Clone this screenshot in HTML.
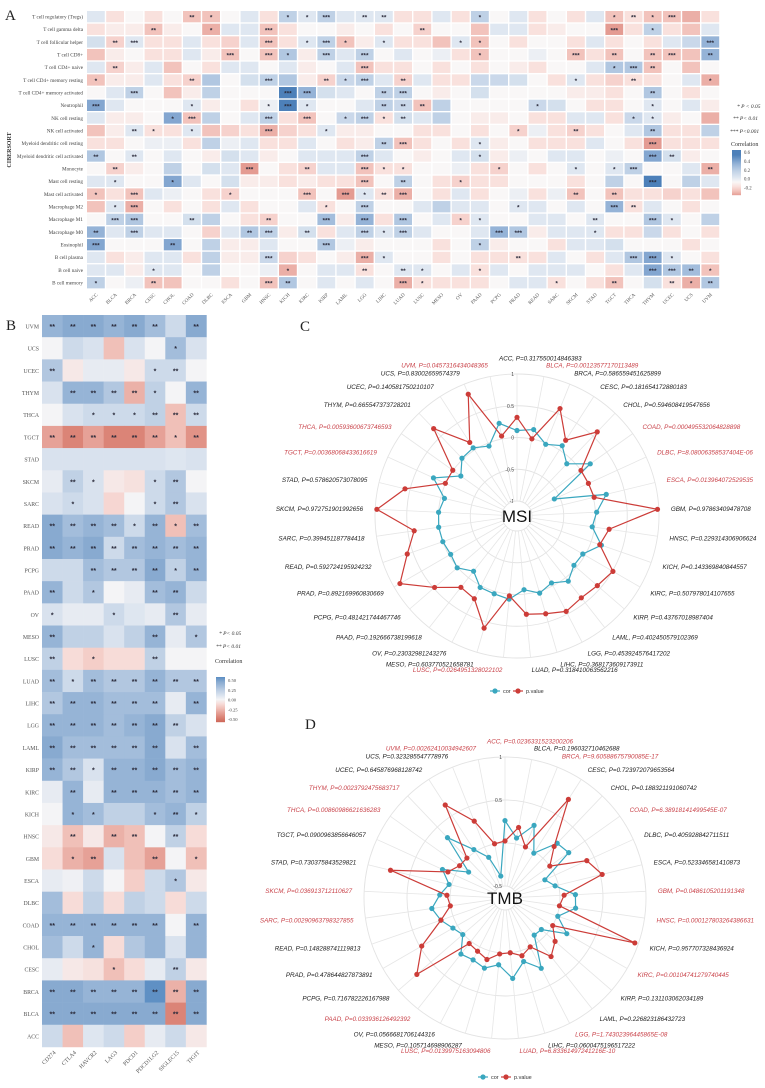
<!DOCTYPE html>
<html><head><meta charset="utf-8"><style>
html,body{margin:0;padding:0;background:#fff;}
svg{display:block;font-family:"Liberation Sans",sans-serif;}
</style></head><body>
<svg id="chart" width="765" height="1088" viewBox="0 0 765 1088" xmlns="http://www.w3.org/2000/svg">
<rect width="765" height="1088" fill="#fff"/>
<g id="gA"></g>
<g id="gB"></g>
<g id="gC"></g>
<g id="gD"></g>
</svg>
<script>
const NS="http://www.w3.org/2000/svg";
// ---------- DATA ----------
const cancers=["ACC","BLCA","BRCA","CESC","CHOL","COAD","DLBC","ESCA","GBM","HNSC","KICH","KIRC","KIRP","LAML","LGG","LIHC","LUAD","LUSC","MESO","OV","PAAD","PCPG","PRAD","READ","SARC","SKCM","STAD","TGCT","THCA","THYM","UCEC","UCS","UVM"];
const cellsA=["T cell regulatory (Tregs)","T cell gamma delta","T cell follicular helper","T cell CD8+","T cell CD4+ naive","T cell CD4+ memory resting","T cell CD4+ memory activated","Neutrophil","NK cell resting","NK cell activated","Myeloid dendritic cell resting","Myeloid dendritic cell activated","Monocyte","Mast cell resting","Mast cell activated","Macrophage M2","Macrophage M1","Macrophage M0","Eosinophil","B cell plasma","B cell naive","B cell memory"];
const valA=[
[.1,-.1,0,-.1,0,-.2,-.2,0,.1,-.1,.25,.1,.25,.1,.1,.1,-.1,-.1,.1,-.1,.25,0,.1,-.1,0,-.1,.1,-.2,-.1,-.2,-.2,-.25,-.1],
[-.1,-.05,-.05,-.2,-.05,0,-.25,.1,.1,-.2,-.1,0,0,-.05,0,-.1,0,-.15,0,0,-.2,.1,.1,-.1,-.05,0,0,-.3,-.1,.25,-.1,-.2,.1],
[.15,-.15,.1,-.1,-.1,.1,-.1,-.15,.1,-.2,-.1,.1,.25,-.2,-.05,.1,-.1,-.1,-.2,.1,-.2,0,-.1,0,0,-.1,.1,-.1,0,-.1,.1,.2,.4],
[-.2,-.05,0,-.1,-.1,.1,-.05,-.2,0,-.2,.3,-.05,.25,.1,.25,0,.1,0,.05,-.1,-.2,0,0,.05,0,-.2,-.1,-.2,0,-.2,-.2,-.2,.4],
[.1,-.15,-.05,.1,-.2,0,-.1,.1,.1,0,.1,-.05,0,.1,-.2,-.1,-.1,0,-.1,0,-.1,0,-.05,-.1,0,0,.1,.3,.3,-.2,0,-.2,0],
[-.2,-.05,-.05,.1,-.1,-.15,.3,0,.15,.25,.3,-.05,-.15,.2,.25,.1,-.15,.1,-.1,-.1,.2,.2,.15,0,-.1,.1,-.1,-.15,-.1,-.1,0,.1,-.25],
[0,.1,.25,0,-.2,-.05,.25,0,0,0,.6,.4,.15,.1,0,.25,.25,0,-.05,0,.15,0,0,0,0,-.05,-.05,-.1,0,.3,0,-.1,0],
[.45,.1,0,0,0,.1,-.05,0,-.1,.05,.6,.1,0,0,.1,.25,.2,-.2,.25,0,0,0,0,.2,.15,0,-.1,-.1,0,.1,0,.1,-.05],
[.1,-.05,-.05,0,.45,-.2,.25,0,.1,.25,-.1,-.2,0,.2,.25,-.1,.15,.1,.25,0,-.05,-.05,0,-.1,-.1,.1,.1,-.1,.2,.1,-.05,0,-.25],
[-.2,-.05,.1,-.1,-.1,.1,-.2,-.15,-.1,-.25,-.15,-.1,.1,-.05,-.05,0,0,-.1,-.1,0,-.1,0,-.15,.05,-.1,-.15,-.1,0,.1,.3,-.1,-.1,.25],
[-.1,-.1,0,.05,.05,-.1,.25,.05,.1,-.1,-.1,.1,0,-.1,-.05,.25,-.2,-.1,0,-.1,.1,-.05,0,-.1,-.1,-.1,.1,0,-.1,-.3,-.1,-.1,-.1],
[.3,0,.1,0,.1,0,-.05,.15,.1,-.05,0,.1,.1,.1,.25,.1,0,-.05,0,.1,.15,-.05,.05,0,.1,.1,0,.05,0,.45,.15,-.05,0],
[0,-.15,-.05,0,.25,0,.15,.1,-.3,0,-.1,-.15,.1,.1,-.2,-.1,-.1,0,0,.05,-.1,-.15,0,-.1,0,.1,0,.1,.25,0,0,.1,-.25],
[.1,.1,0,0,.45,.1,0,.15,-.05,-.05,-.1,-.05,-.1,-.1,-.2,0,.25,0,-.1,-.15,-.1,-.1,0,0,0,-.1,0,.25,0,.6,0,.25,.1],
[-.2,-.1,-.2,.1,.05,0,-.1,-.15,0,0,0,-.2,0,-.3,.1,-.1,-.25,0,-.1,.1,-.1,0,.05,-.1,.05,-.2,0,-.2,-.1,-.1,-.15,-.1,-.2],
[-.2,.1,-.25,0,-.1,0,-.1,.1,-.1,0,0,.1,-.1,0,.25,0,0,.1,.25,.1,.1,0,.1,.1,0,.1,0,.4,-.1,.1,0,-.1,0],
[0,.25,.3,0,0,.15,.25,0,-.1,-.15,0,0,.35,-.05,.4,-.1,.3,0,.1,-.15,.1,0,0,.1,.1,0,.1,0,0,.3,.1,0,.25],
[.4,.1,.25,.1,.1,0,-.15,.1,.3,.25,-.05,.15,-.1,.1,.25,.1,.25,.1,0,0,.1,.4,.3,-.05,.1,.1,.1,-.1,-.1,.2,-.1,0,-.1],
[.45,0,0,0,.45,0,.25,-.05,-.05,.1,0,0,.3,.05,-.05,0,0,0,-.1,0,.25,-.05,0,0,-.1,.1,.1,.15,0,0,0,-.1,0],
[.1,-.1,-.05,.1,.1,-.1,.25,-.05,-.05,.2,-.15,-.1,0,-.05,-.25,.1,0,0,-.1,0,-.1,-.1,-.1,-.1,.1,0,-.1,.1,.3,.45,.1,0,-.1],
[.1,.1,-.05,.1,.1,0,.25,0,0,.05,-.25,0,.1,.1,-.1,0,.1,.1,0,.1,-.1,.1,0,.1,.1,.1,0,-.1,.1,.45,.3,.35,-.2],
[.25,0,.05,-.2,-.2,0,0,-.1,0,-.2,.3,0,.1,0,.1,0,-.25,-.1,-.1,-.1,-.1,0,.1,.1,-.1,0,-.1,-.2,0,.15,-.1,-.25,.3]];
const sigA=[
[0,0,0,0,0,2,1,0,0,0,1,1,3,0,2,2,0,0,0,0,1,0,0,0,0,0,0,1,2,1,3,0,0],
[0,0,0,2,0,0,1,0,0,3,0,0,0,0,0,0,0,2,0,0,0,0,0,0,0,0,0,3,0,1,0,0,0],
[0,2,3,0,0,0,0,0,0,3,0,1,3,1,0,1,0,0,0,1,1,0,0,0,0,0,0,0,0,0,0,0,3],
[0,0,0,0,0,0,0,3,0,3,1,0,3,0,3,0,0,0,0,0,1,0,0,0,0,3,0,2,0,2,3,0,2],
[0,2,0,0,0,0,0,0,0,0,0,0,0,0,3,0,0,0,0,0,0,0,0,0,0,0,0,1,3,2,0,0,0],
[1,0,0,0,0,2,0,0,0,3,0,0,2,1,3,0,2,0,0,0,0,0,0,0,0,1,0,0,2,0,0,0,1],
[0,0,3,0,0,0,0,0,0,0,3,3,0,0,0,2,3,0,0,0,0,0,0,0,0,0,0,0,0,2,0,0,0],
[3,0,0,0,0,1,0,0,0,1,3,1,0,0,0,2,2,2,0,0,0,0,0,1,0,0,0,0,0,1,0,0,0],
[0,0,0,0,1,3,0,0,0,3,0,3,0,1,3,1,2,0,0,0,0,0,0,0,0,0,0,0,1,1,0,0,0],
[0,0,2,1,0,1,0,0,0,3,0,0,1,0,0,0,0,0,0,0,0,0,1,0,0,2,0,0,0,2,0,0,0],
[0,0,0,0,0,0,0,0,0,0,0,0,0,0,0,2,3,0,0,0,1,0,0,0,0,0,0,0,0,3,0,0,0],
[2,0,2,0,0,0,0,0,0,0,0,0,0,0,3,0,0,0,0,0,1,0,0,0,0,0,0,0,0,3,2,0,0],
[0,2,0,0,0,0,0,0,3,0,0,2,0,0,3,1,1,0,0,0,0,1,0,0,0,1,0,1,3,0,0,0,2],
[0,1,0,0,1,0,0,0,0,0,0,0,0,0,3,0,2,0,0,1,0,0,0,0,0,0,0,0,0,3,0,0,0],
[1,0,3,0,0,0,0,1,0,0,0,3,0,3,1,2,3,0,0,0,0,0,0,0,0,2,0,2,0,0,0,0,0],
[0,1,3,0,0,0,0,0,0,0,0,0,1,0,3,0,0,0,0,0,0,0,1,0,0,0,0,3,2,0,0,0,0],
[0,3,3,0,0,2,0,0,0,2,0,0,3,0,3,0,3,0,0,1,1,0,0,0,0,0,2,0,0,3,1,0,0],
[2,0,3,0,0,0,0,0,2,3,0,2,0,0,3,1,3,0,0,0,0,3,3,0,0,0,1,0,0,0,0,0,0],
[3,0,0,0,2,0,0,0,0,0,0,0,3,0,0,0,0,0,0,0,1,0,0,0,0,0,0,0,0,0,0,0,0],
[0,0,0,0,0,0,0,0,0,3,0,0,0,0,3,1,0,0,0,0,0,0,2,0,0,0,0,0,3,3,1,0,0],
[0,0,0,1,0,0,0,0,0,0,1,0,0,0,2,0,2,1,0,0,1,0,0,0,0,0,0,0,0,3,3,2,1],
[1,0,0,2,0,0,0,0,0,3,2,0,0,0,0,0,3,1,0,0,0,0,0,0,1,0,0,2,0,0,2,1,2]];
const ticksA=["0.6","0.4","0.2","0.0","-0.2"];

const rowsB=["UVM","UCS","UCEC","THYM","THCA","TGCT","STAD","SKCM","SARC","READ","PRAD","PCPG","PAAD","OV","MESO","LUSC","LUAD","LIHC","LGG","LAML","KIRP","KIRC","KICH","HNSC","GBM","ESCA","DLBC","COAD","CHOL","CESC","BRCA","BLCA","ACC"];
const genesB=["CD274","CTLA4","HAVCR2","LAG3","PDCD1","PDCD1LG2","SIGLEC15","TIGIT"];
const valB=[
[.35,.4,.4,.35,.4,.3,.15,.4],[0,.15,.1,-.2,.1,0,.3,.1],[.25,-.05,.05,.05,-.05,.15,.15,0],[.1,.35,.35,.25,-.25,.2,0,.35],
[0,.1,.15,.15,.15,.2,-.2,.15],[-.3,-.4,-.3,-.4,-.4,-.3,-.2,-.35],[.1,.1,.1,.1,.1,.1,.08,.1],[.05,.2,.1,-.05,-.08,.15,.25,0],
[.1,.15,.1,-.12,0,.15,.25,.1],[.4,.3,.35,.3,.15,.35,-.2,.3],[.4,.35,.4,.15,.3,.35,.3,.35],[.15,.15,.3,.25,.25,.4,.2,.35],
[.35,.15,.25,0,.05,.3,.35,.15],[.1,.05,.05,.15,.08,.05,.25,.05],[.35,.2,.2,.1,.2,.35,.05,.25],[.2,-.1,-.15,-.1,-.1,.2,0,0],
[.3,.15,.3,.25,.25,.35,.25,.25],[.25,.35,.35,.3,.3,.3,.05,.35],[.35,.35,.35,.3,.35,.4,.2,.1],[.4,.3,.3,.3,.3,.4,.1,.3],
[.35,.25,.1,.35,.35,.4,.3,.35],[.05,.35,.05,.35,.35,.35,.3,.35],[0,.35,.3,.2,.2,.3,.35,.2],[-.05,-.2,-.05,-.25,-.2,0,.2,-.1],
[-.1,-.25,-.3,.1,-.2,-.3,0,-.2],[.05,.02,.15,0,-.15,.15,.25,-.05],[.3,-.1,.2,-.1,.2,.15,-.1,.15],[.35,.35,.35,.35,.35,.35,0,.35],
[.3,.15,.35,-.1,.25,.35,.1,.35],[.05,-.05,-.08,-.2,-.1,.05,.2,-.05],[.4,.4,.35,.35,.35,.5,-.25,.4],[.4,.4,.4,.4,.4,.4,-.4,.4],
[.15,-.2,.08,.15,-.15,.05,.15,-.05]];
const sigB=[
[2,2,2,2,2,2,0,2],[0,0,0,0,0,0,1,0],[2,0,0,0,0,1,2,0],[0,2,2,2,2,1,0,2],[0,0,1,1,1,2,2,2],[2,2,2,2,2,2,1,2],[0,0,0,0,0,0,0,0],
[0,2,1,0,0,1,2,0],[0,1,0,0,0,1,2,0],[2,2,2,2,1,2,1,2],[2,2,2,2,2,2,2,2],[0,0,2,2,2,2,1,2],[2,0,1,0,0,2,2,0],[1,0,0,1,0,0,2,0],
[2,0,0,0,0,2,0,1],[2,0,1,0,0,2,0,0],[2,1,2,2,2,2,2,2],[2,2,2,2,2,2,0,2],[2,2,2,2,2,2,2,0],[2,2,2,2,2,2,0,2],[2,2,1,2,2,2,2,2],
[0,2,0,2,2,2,2,2],[0,1,1,0,0,1,2,1],[0,2,0,2,2,0,2,0],[0,1,2,0,0,2,0,1],[0,0,0,0,0,0,1,0],[0,0,0,0,0,0,0,0],[2,2,2,2,2,2,0,2],
[0,0,1,0,0,0,0,0],[0,0,0,1,0,0,2,0],[2,2,2,2,2,2,2,2],[2,2,2,2,2,2,2,2],[0,0,0,0,0,0,0,0]];
const ticksB=["0.50","0.25","0.00","-0.25","-0.50"];

const msiCor=[.11,.15,-.02,.08,-.10,.18,-.59,.21,.02,-.04,.17,-.04,-.05,.07,-.05,.03,-.07,.08,.04,.03,-.13,.01,-.03,0,.01,0,-.06,.21,-.15,.02,.04,-.05,.25];
const msiP=[0.317550014846383,0.00123577170113489,0.586559451625899,0.181654172880183,0.594608419547656,0.000495532064828898,8.08006358537404e-06,0.013964072529535,0.97863409478708,0.229314306906624,0.143369840844557,0.507978014107655,0.43767018987404,0.402450579102369,0.453924576417202,0.368173609173911,0.318410063562216,0.0264951328022102,0.603770521658781,0.23032981243276,0.192666738199618,0.481421744467746,0.892169960830669,0.592724195924232,0.399451187784418,0.972751901992656,0.578620573078095,0.00368068433616619,0.00593600673746593,0.665547373728201,0.140581750210107,0.83002659574379,0.0457316434048365];
const msiPtxt=["0.317550014846383","0.00123577170113489","0.586559451625899","0.181654172880183","0.594608419547656","0.000495532064828898","8.08006358537404E-06","0.013964072529535","0.97863409478708","0.229314306906624","0.143369840844557","0.507978014107655","0.43767018987404","0.402450579102369","0.453924576417202","0.368173609173911","0.318410063562216","0.0264951328022102","0.603770521658781","0.23032981243276","0.192666738199618","0.481421744467746","0.892169960830669","0.592724195924232","0.399451187784418","0.972751901992656","0.578620573078095","0.00368068433616619","0.00593600673746593","0.665547373728201","0.140581750210107","0.83002659574379","0.0457316434048365"];
const tmbCor=[.26,.07,.27,-.02,.24,.27,-.13,-.04,.18,.19,.01,.19,-.08,-.09,.28,.13,.30,.14,.21,.17,.19,.01,.06,.15,.22,.12,.03,.16,-.12,.33,.03,-.13,-.38];
const tmbP=[0.0236331523200206,0.196032710462688,9.60588675790085e-17,0.723972079653564,0.188321191060742,6.38918141499545e-07,0.405928842711511,0.523346581410873,0.0486105201191348,0.000127803264386631,0.957707328436924,0.00104741279740445,0.131103062034189,0.226823186432723,1.74302396445865e-08,0.0600475196517222,6.83361497241216e-10,0.0139975163094806,0.105714698906287,0.0566681706144316,0.033936126492392,0.716782226167988,0.478644827873891,0.148288741119813,0.00290963798327855,0.036913712110627,0.730375843529821,0.0900963856646057,0.00860986621636283,0.00237924756837,0.645876968128742,0.323285547778976,0.0026241003494260];
const tmbPtxt=["0.0236331523200206","0.196032710462688","9.60588675790085E-17","0.723972079653564","0.188321191060742","6.38918141499545E-07","0.405928842711511","0.523346581410873","0.0486105201191348","0.000127803264386631","0.957707328436924","0.00104741279740445","0.131103062034189","0.226823186432723","1.74302396445865E-08","0.0600475196517222","6.83361497241216E-10","0.0139975163094806","0.105714698906287","0.0566681706144316","0.033936126492392","0.716782226167988","0.478644827873891","0.148288741119813","0.00290963798327855","0.036913712110627","0.730375843529821","0.0900963856646057","0.00860986621636283","0.0023792475683717","0.645876968128742","0.323285547778976","0.00262410034942607"];

// ---------- helpers ----------
function mk(tag,parent){const e=document.createElementNS(NS,tag);parent.appendChild(e);return e;}
function at(e,o){for(const k in o)e.setAttribute(k,o[k]);return e;}
function hex(c){return [parseInt(c.slice(1,3),16),parseInt(c.slice(3,5),16),parseInt(c.slice(5,7),16)];}
function interp(stops,v){
  if(v<=stops[0][0])return stops[0][1];
  for(let i=1;i<stops.length;i++){if(v<=stops[i][0]){const a=stops[i-1],b=stops[i];const t=(v-a[0])/(b[0]-a[0]);const A=hex(a[1]),B=hex(b[1]);return "rgb("+A.map((x,j)=>Math.round(x+(B[j]-x)*t)).join(",")+")";}}
  return stops[stops.length-1][1];
}
const stopsA=[[-.3,"#e49b92"],[-.2,"#f2c3bc"],[-.1,"#f9e1dd"],[0,"#f9f7f7"],[.1,"#dfe7f1"],[.25,"#bfd1e6"],[.4,"#95b3d7"],[.6,"#4d80b9"]];
const stopsB=[[-.5,"#cf6a5c"],[-.4,"#db8477"],[-.3,"#e6a197"],[-.2,"#f0c0b8"],[-.1,"#f7dcd8"],[0,"#f4f4f6"],[.1,"#d9e2ee"],[.2,"#c0d1e5"],[.3,"#a3bddb"],[.4,"#88aad0"],[.5,"#5f90c4"]];
const stars=n=>["","*","**","***"][n];

// ---------- Panel A ----------
const gA=document.getElementById('gA');
const ax0=87,apx=19.2,ay0=11,apy=12.67;
let t=at(mk('text',gA),{x:5,y:20,'font-family':'Liberation Serif,serif','font-size':15,fill:'#222'});t.textContent="A";


t=at(mk('text',gA),{x:0,y:0,transform:'translate(11,150) rotate(-90)','text-anchor':'middle','font-family':'Liberation Serif,serif','font-size':6,'font-weight':'bold',fill:'#333'});t.textContent="CIBERSORT";


cellsA.forEach((nm,r)=>{
  const l=at(mk('text',gA),{x:83,y:ay0+r*apy+7.5,'text-anchor':'end','font-family':'Liberation Serif,serif','font-size':5.2,fill:'#444'});l.textContent=nm;
  
  
  valA[r].forEach((v,c)=>{
    const x=ax0+c*apx,y=ay0+r*apy;
    const rc=at(mk('rect',gA),{x:x,y:y,width:17.8,height:11.3,fill:interp(stopsA,v)});
    
    
    if(sigA[r][c]){const s=at(mk('text',gA),{x:x+8.9,y:y+8.6,'text-anchor':'middle','font-size':6.5,'font-weight':'bold',fill:'#2a2a3a'});s.textContent=stars(sigA[r][c]);
      
      }
  });
});
cancers.forEach((nm,c)=>{
  const x=ax0+c*apx+11,y=295;
  const l=at(mk('text',gA),{x:0,y:0,transform:`translate(${x},${y}) rotate(-45)`,'text-anchor':'end','font-family':'Liberation Serif,serif','font-size':5,fill:'#555'});l.textContent=nm;
  
  
});
[["* P < 0.05",737,108],["** P< 0.01",733,120],["*** P<0.001",730,133]].forEach(d=>{
  const l=at(mk('text',gA),{x:d[1],y:d[2],'font-family':'Liberation Serif,serif','font-style':'italic','font-size':5.5,fill:'#333'});l.textContent=d[0];
  
  
});
t=at(mk('text',gA),{x:731,y:146,'font-family':'Liberation Serif,serif','font-size':6,fill:'#333'});t.textContent="Correlation";


for(let i=0;i<45;i++){const v=.7-i*(1.0/45);at(mk('rect',gA),{x:732,y:150+i,width:9,height:1.2,fill:interp(stopsA,v)});}
ticksA.forEach((tk,i)=>{const l=at(mk('text',gA),{x:744,y:154+i*8.9,'font-family':'Liberation Serif,serif','font-size':4.8,fill:'#444'});l.textContent=tk;
  
  });

// ---------- Panel B ----------
const gB=document.getElementById('gB');
const bx0=42,bpx=20.55,by0=315,bpy=22.18;
t=at(mk('text',gB),{x:6,y:330,'font-family':'Liberation Serif,serif','font-size':15,fill:'#222'});t.textContent="B";


rowsB.forEach((nm,r)=>{
  const l=at(mk('text',gB),{x:39,y:by0+r*bpy+13.5,'text-anchor':'end','font-family':'Liberation Serif,serif','font-size':5.8,fill:'#555'});l.textContent=nm;
  
  
  valB[r].forEach((v,c)=>{
    const x=bx0+c*bpx,y=by0+r*bpy;
    const rc=at(mk('rect',gB),{x:x,y:y,width:bpx+.3,height:bpy+.3,fill:interp(stopsB,v)});
    
    
    if(sigB[r][c]){const s=at(mk('text',gB),{x:x+bpx/2,y:y+14,'text-anchor':'middle','font-size':7,'font-weight':'bold',fill:'#2a2a3a'});s.textContent=stars(sigB[r][c]);
      
      }
  });
});
genesB.forEach((nm,c)=>{
  const x=bx0+c*bpx+14,y=1053;
  const l=at(mk('text',gB),{x:0,y:0,transform:`translate(${x},${y}) rotate(-45)`,'text-anchor':'end','font-family':'Liberation Serif,serif','font-size':5.8,fill:'#555'});l.textContent=nm;
  
  
});
[["* P< 0.05",219,635],["** P< 0.01",216,648]].forEach(d=>{
  const l=at(mk('text',gB),{x:d[1],y:d[2],'font-family':'Liberation Serif,serif','font-style':'italic','font-size':5.5,fill:'#333'});l.textContent=d[0];
  
  
});
t=at(mk('text',gB),{x:215,y:663,'font-family':'Liberation Serif,serif','font-size':6,fill:'#333'});t.textContent="Correlation";


for(let i=0;i<45;i++){const v=.5-i*(1.0/44);at(mk('rect',gB),{x:216,y:677+i,width:9,height:1.2,fill:interp(stopsB,v)});}
ticksB.forEach((tk,i)=>{const l=at(mk('text',gB),{x:228,y:682+i*9.8,'font-family':'Liberation Serif,serif','font-size':4.6,fill:'#444'});l.textContent=tk;
  
  });

// ---------- Radars ----------
function radar(g,letter,lx,ly,cx,cy,r0,k,gridVals,tickTxt,title,cor,pv,ptxt,legY){
  const n=cancers.length,R=v=>r0+k*v;
  const ang=i=>i/n*2*Math.PI;
  const P=(i,r)=>[cx+r*Math.sin(ang(i)),cy-r*Math.cos(ang(i))];
  let tt=at(mk('text',g),{x:lx,y:ly,'font-family':'Liberation Serif,serif','font-size':15,fill:'#222'});tt.textContent=letter;
  
  
  gridVals.forEach(v=>{const c=at(mk('circle',g),{cx:cx,cy:cy,r:R(v),fill:'none',stroke:'#e3e3e3','stroke-width':.9});
    
    });
  const rin=R(gridVals[0]),rout=R(gridVals[gridVals.length-1]);
  for(let i=0;i<n;i++){const a=P(i,rin),b=P(i,rout);at(mk('line',g),{x1:a[0],y1:a[1],x2:b[0],y2:b[1],stroke:'#e6e6e6','stroke-width':.8});}
  gridVals.forEach((v,j)=>{if(!tickTxt[j])return;const l=at(mk('text',g),{x:cx-3,y:cy-R(v)+2,'text-anchor':'end','font-size':5,fill:'#444'});l.textContent=tickTxt[j];
    
    });
  const c0=at(mk('circle',g),{cx:cx,cy:cy,r:Math.max(rin-1,8),fill:'#fff'});
  tt=at(mk('text',g),{x:cx,y:cy+6,'text-anchor':'middle','font-size':17,fill:'#111'});tt.textContent=title;
  
  
  const series=[[cor,"#3aa7bf","cor-series"],[pv,"#cc3c38","pvalue-series"]];
  series.forEach(([vals,col,nm])=>{
    const pts=vals.map((v,i)=>P(i,R(v)));
    const pl=at(mk('polygon',g),{points:pts.map(p=>p.join(',')).join(' '),fill:'none',stroke:col,'stroke-width':1.2});
    
    
    pts.forEach(p=>{const d=at(mk('circle',g),{cx:p[0],cy:p[1],r:2.6,fill:col});
      
      });
  });
  for(let i=0;i<n;i++){
    const p=P(i,rout+12);const s=Math.sin(ang(i));
    let anchor=s>0.03?'start':(s<-0.03?'end':(Math.cos(ang(i))>0?'start':'end'));
    let x=p[0],y=p[1]+2.5;if(i===0){x-=18;y-=4;}
    const red=pv[i]<0.05;
    const l=at(mk('text',g),{x:x,y:y,'text-anchor':anchor,'font-size':6.3,'font-style':'italic',fill:red?'#c9434a':'#222'});
    l.textContent=cancers[i]+", P="+ptxt[i];
    
    
  }
  const lg=mk('g',g);
  
  
  const lx0=cx-22;
  at(mk('line',lg),{x1:lx0-5,y1:legY,x2:lx0+5,y2:legY,stroke:'#3aa7bf','stroke-width':1.2});
  at(mk('circle',lg),{cx:lx0,cy:legY,r:2.6,fill:'#3aa7bf'});
  let q=at(mk('text',lg),{x:lx0+8,y:legY+2,'font-size':5.5,fill:'#333'});q.textContent="cor";
  
  
  at(mk('line',lg),{x1:lx0+18,y1:legY,x2:lx0+28,y2:legY,stroke:'#cc3c38','stroke-width':1.2});
  at(mk('circle',lg),{cx:lx0+23,cy:legY,r:2.6,fill:'#cc3c38'});
  q=at(mk('text',lg),{x:lx0+31,y:legY+2,'font-size':5.5,fill:'#333'});q.textContent="p.value";
  
  
}
radar(document.getElementById('gC'),"C",300,331,517,516,78.5,63.5,[-1,-.5,0,.5,1],["-1","-0.5","0","0.5","1"],"MSI",msiCor,msiP,msiPtxt,691);
radar(document.getElementById('gD'),"D",305,729,505,898,55,86,[-.5,0,.5,1],["-0.5","","0.5","1"],"TMB",tmbCor,tmbP,tmbPtxt,1077);
</script>
</body></html>
